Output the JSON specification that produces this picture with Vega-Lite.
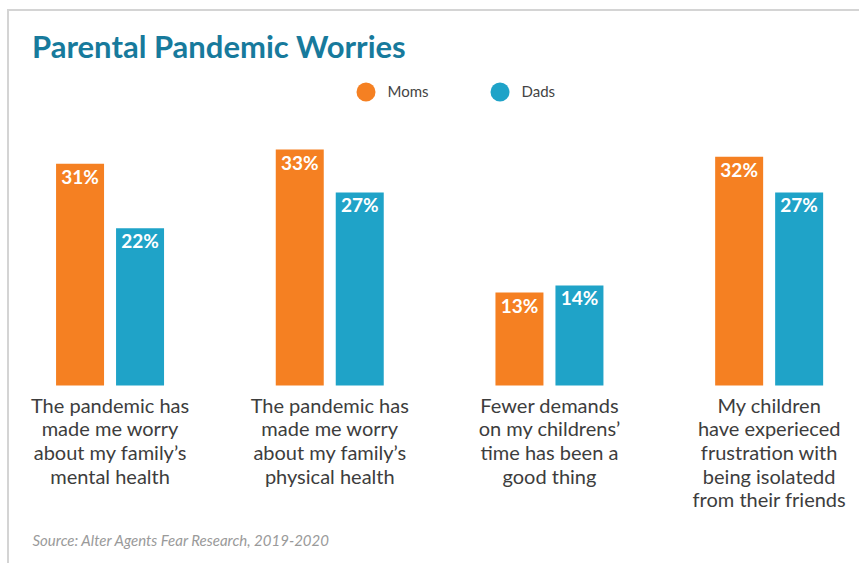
{
  "$schema": "https://vega.github.io/schema/vega-lite/v6.json",
  "autosize": {"type": "none"},
  "width": 860,
  "height": 560,
  "padding": {"left": 8, "top": 10, "right": -9, "bottom": -7},
  "background": "white",
  "title": {
    "text": "Parental Pandemic Worries",
    "anchor": "start",
    "frame": "group",
    "orient": "top",
    "offset": -79,
    "dx": 24,
    "baseline": "alphabetic",
    "font": "Lato",
    "fontSize": 31,
    "fontWeight": "bold",
    "color": "#177A9C"
  },
  "data": {
    "values": [
      {"q": "The pandemic has|made me worry|about my family’s|mental health", "g": "Moms", "v": 0.31},
      {"q": "The pandemic has|made me worry|about my family’s|mental health", "g": "Dads", "v": 0.22},
      {"q": "The pandemic has|made me worry|about my family’s|physical health", "g": "Moms", "v": 0.33},
      {"q": "The pandemic has|made me worry|about my family’s|physical health", "g": "Dads", "v": 0.27},
      {"q": "Fewer demands|on my childrens’|time has been a|good thing", "g": "Moms", "v": 0.13},
      {"q": "Fewer demands|on my childrens’|time has been a|good thing", "g": "Dads", "v": 0.14},
      {"q": "My children|have experieced|frustration with|being isolatedd|from their friends", "g": "Moms", "v": 0.32},
      {"q": "My children|have experieced|frustration with|being isolatedd|from their friends", "g": "Dads", "v": 0.27}
    ]
  },
  "encoding": {
    "x": {
      "field": "q",
      "type": "nominal",
      "sort": null,
      "scale": {"range": [-7.8, 871], "paddingInner": 0, "paddingOuter": 0},
      "axis": {
        "orient": "bottom",
        "offset": -185,
        "domain": false,
        "ticks": false,
        "grid": false,
        "labelAngle": 0,
        "labelExpr": "split(datum.label, '|')",
        "labelFont": "Lato",
        "labelFontSize": 20,
        "labelColor": "#3d3d3d",
        "labelLineHeight": 23.7,
        "labelPadding": 11,
        "labelBaseline": "top",
        "labelLimit": 0,
        "labelOverlap": false,
        "labelFlush": false,
        "title": "Source: Alter Agents Fear Research, 2019-2020",
        "titleX": 24,
        "titleY": 160,
        "titleAlign": "left",
        "titleAnchor": "start",
        "titleBaseline": "alphabetic",
        "titleFont": "Lato",
        "titleFontSize": 15,
        "titleFontStyle": "italic",
        "titleFontWeight": "normal",
        "titleColor": "#9a9a9a"
      }
    },
    "xOffset": {
      "field": "g",
      "type": "nominal",
      "sort": ["Moms", "Dads"],
      "scale": {"paddingInner": 0.2, "paddingOuter": 0.931}
    },
    "y": {
      "field": "v",
      "type": "quantitative",
      "scale": {"domain": [-0.258, 0.5251], "nice": false, "zero": false},
      "axis": null
    }
  },
  "layer": [
    {
      "mark": {"type": "bar", "cornerRadius": 0},
      "encoding": {
        "y2": {"datum": 0},
        "color": {
          "field": "g",
          "type": "nominal",
          "sort": ["Moms", "Dads"],
          "scale": {"domain": ["Moms", "Dads"], "range": ["#F58022", "#1FA3C8"]},
          "legend": {
            "orient": "none",
            "legendX": 348.5,
            "legendY": 72.5,
            "direction": "horizontal",
            "title": null,
            "symbolType": "circle",
            "symbolSize": 361,
            "symbolStrokeWidth": 0,
            "symbolOpacity": 1,
            "labelFont": "Lato",
            "labelFontSize": 15,
            "labelColor": "#444444",
            "labelOffset": 12,
            "columnPadding": 61
          }
        }
      }
    },
    {
      "mark": {
        "type": "text",
        "baseline": "middle",
        "align": "center",
        "dy": 14,
        "font": "Lato",
        "fontSize": 19,
        "fontWeight": "bold",
        "color": "white"
      },
      "encoding": {
        "text": {"field": "v", "type": "quantitative", "format": ".0%"}
      }
    }
  ],
  "config": {
    "view": {"stroke": "#d4d4d4", "strokeWidth": 2},
    "axis": {"grid": false}
  }
}
